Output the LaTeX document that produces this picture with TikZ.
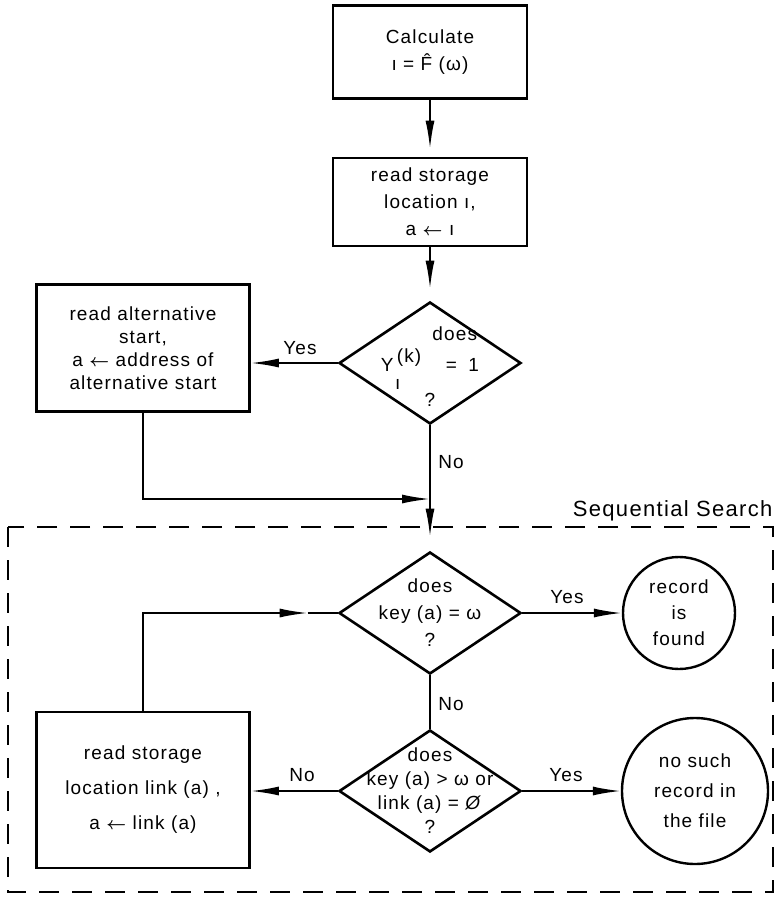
\documentclass[tikz,border=0pt]{standalone}
\usepackage{amsmath}
\usepackage{fontspec}
\setmainfont{Liberation Sans}[LetterSpace=6]
\usetikzlibrary{shapes.geometric,arrows.meta,positioning}

\newcommand{\getsarrow}{$\boldsymbol{\leftarrow}$}

\begin{document}
\begin{tikzpicture}[x=1pt, y=-1pt,
        every node/.style={font=\fontsize{19}{27}\selectfont},
        stepbox/.style={draw, line width=2.6pt, align=center, inner sep=0pt},
        decision/.style={draw, diamond, line width=2.6pt, minimum width=182pt, minimum height=122pt, inner sep=0pt},
        dtext/.style={align=center, inner sep=0pt},
        endstate/.style={draw, circle, line width=2.4pt, align=center, inner sep=0pt},
        flow/.style={line width=1.8pt, -{Latex[length=28pt,width=9pt]}},
        wire/.style={line width=1.8pt},
        answer/.style={inner sep=1pt}]
        \useasboundingbox (0,0) rectangle (774,899);

        % Hashing part: calculate address, read it, test the bit
        \node[stepbox, minimum width=194pt, minimum height=93pt] (calc) at (430,52) {Calculate\\ ı = \^{F} (ω)};
        \node[stepbox, minimum width=194pt, minimum height=88pt] (readloc) at (430,202) {read storage\\ location ı,\\ a \getsarrow\ ı};
        \node[decision] (ybit) at (430,363) {};
        \node[dtext, font=\fontsize{19}{20}\selectfont] (ybit-t) at ([yshift=-4pt]ybit.center) {\hspace{2.6em}does\\[7pt] Y\,\raisebox{9pt}{(k)}\hspace{1.3em}=\hspace{0.6em}1\\[-2pt] \hspace{-3.4em}ı\\[-3pt] ?};
        \node[stepbox, minimum width=213pt, minimum height=127pt, font=\fontsize{19}{23}\selectfont] (altstart) at (143,348) {read alternative\\ start,\\ a \getsarrow\ address of\\ alternative start};

        % Sequential search region
        \draw[dashed, line width=2pt, dash pattern=on 20pt off 13pt] (8,527) rectangle (773,892);
        \node[anchor=base east, font=\fontsize{22}{26}\selectfont] (seqlabel) at (776,516) {Sequential Search};

        \node[decision] (keyeq) at (430,613) {};
        \node[dtext] (keyeq-t) at (keyeq.center) {does\\ key (a) = ω\\ ?};
        \node[endstate, minimum size=112pt, font=\fontsize{19}{26}\selectfont] (found) at (679,613) {record\\ is\\ found};

        \node[decision] (keygt) at (430,791) {};
        \node[dtext, font=\fontsize{19}{24}\selectfont] (keygt-t) at (keygt.center) {does\\ key (a) > ω  or\\ link (a) = \textit{Ø}\\ ?};
        \node[endstate, minimum size=146pt, font=\fontsize{19}{30}\selectfont] (nosuch) at (695,791) {no such\\ record in\\ the file};
        \node[stepbox, minimum width=213pt, minimum height=156pt, font=\fontsize{19}{35}\selectfont] (linkread) at (143,790) {read storage\\ location link (a) ,\\ a \getsarrow\ link (a)};

        \coordinate (merge) at (430,499);

        % Connectors
        \draw[flow, shorten >=8pt] (calc) -- (readloc);
        \draw[flow, shorten >=12pt] (readloc) -- (ybit.north);
        \draw[flow] (ybit.west) -- (ybit.west -| altstart.east);
        \draw[wire] (ybit.south) -- (merge);
        \draw[flow] (altstart.south) |- (merge);
        \draw[flow, shorten >=14pt] (merge) -- (keyeq.north);
        \draw[flow] (keyeq.east) -- (found.west);
        \draw[wire] (keyeq.south) -- (keygt.north);
        \draw[flow] (keygt.east) -- (nosuch.west);
        \draw[flow] (keygt.west) -- (keygt.west -| linkread.east);
        \draw[flow, shorten >=30pt] (linkread.north) |- (keyeq.west);
        \draw[wire] ([xshift=-30pt]keyeq.west) -- (keyeq.west);

        % Branch labels
        \node[answer] (yes1) at (300,348) {Yes};
        \node[answer] (no1) at (451,462) {No};
        \node[answer] (yes2) at (567,597) {Yes};
        \node[answer] (no2) at (451,704) {No};
        \node[answer] (no3) at (302,775) {No};
        \node[answer] (yes3) at (566,775) {Yes};
\end{tikzpicture}
\end{document}
